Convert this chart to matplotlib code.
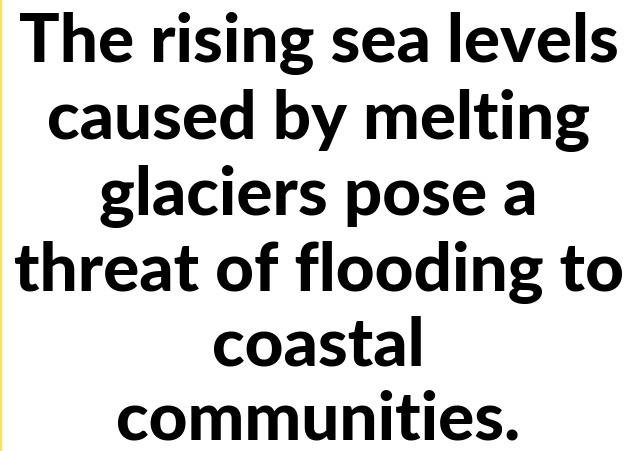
import matplotlib
matplotlib.use("Agg")
import matplotlib.pyplot as plt
from matplotlib.lines import Line2D

lines = [
    "The rising sea levels",
    "caused by melting",
    "glaciers pose a",
    "threat of flooding to",
    "coastal",
    "communities.",
]
baselines_px = [62, 139, 215, 291, 366, 439]

W, H = 637, 451
fig = plt.figure(figsize=(W / 100, H / 100), dpi=100)
fig.patch.set_facecolor("white")

for txt, b in zip(lines, baselines_px):
    fig.text(0.5, 1 - b / H, txt, ha="center", va="baseline",
             fontsize=48.5, fontweight="black", family=["Lato", "DejaVu Sans"],
             color="black")

fig.add_artist(Line2D([1.5 / W, 1.5 / W], [0, 1], color="#FFD84A", linewidth=1.2,
                      transform=fig.transFigure))

fig.savefig("out.png", dpi=100, facecolor="white")
